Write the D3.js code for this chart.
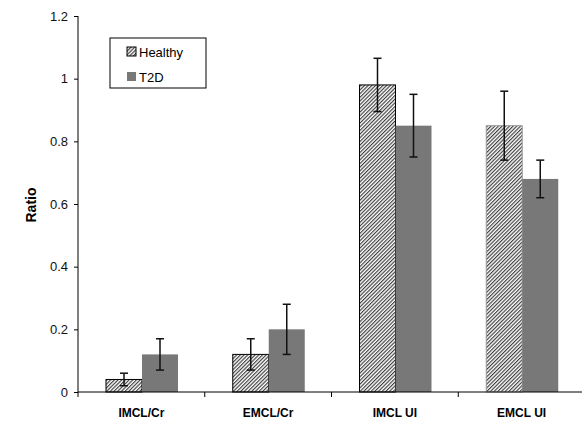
<!DOCTYPE html>
<html>
<head>
<meta charset="utf-8">
<script src="https://cdn.jsdelivr.net/npm/d3@7"></script>
<style>
  body { margin: 0; background: #fff; }
  svg text { font-family: "Liberation Sans", Arial, sans-serif; }
</style>
</head>
<body>
<svg id="chart" width="582" height="424"></svg>
<script>
var categories = ["IMCL/Cr", "EMCL/Cr", "IMCL UI", "EMCL UI"];
var groups = ["Healthy", "T2D"];
var healthy = [0.04, 0.12, 0.98, 0.85];
var healthyErr = [0.02, 0.05, 0.085, 0.11];
var t2d = [0.12, 0.20, 0.85, 0.68];
var t2dErr = [0.05, 0.08, 0.10, 0.06];
var yTicks = [0, 0.2, 0.4, 0.6, 0.8, 1, 1.2];

var svg = d3.select("#chart");
// note: "top" is a reserved window prop, so plot edges get a prefix
var plotL = 78, plotT = 16, plotB = 392, plotR = 585;

var x = d3.scaleBand().domain(categories).range([plotL, plotR]);
var xs = d3.scaleBand().domain(groups).range([28, 100]);
var y = d3.scaleLinear().domain([0, 1.2]).range([plotB, plotT]);

// hatch for healthy bars
var defs = svg.append("defs");
defs.append("pattern")
    .attr("id", "hatch")
    .attr("patternUnits", "userSpaceOnUse")
    .attr("width", 2.6)
    .attr("height", 4)
    .attr("patternTransform", "rotate(45)")
    .call(p => {
        p.append("rect").attr("width", 2.6).attr("height", 4).attr("fill", "#fff");
        p.append("line").attr("x1", 0.6).attr("y1", 0).attr("x2", 0.6).attr("y2", 4)
            .attr("stroke", "#333").attr("stroke-width", 1.1);
    });

var rows = categories.map((c, i) => ({
    cat: c,
    bars: [
        { g: "Healthy", v: healthy[i], e: healthyErr[i] },
        { g: "T2D", v: t2d[i], e: t2dErr[i] },
    ],
}));

var grp = svg.selectAll(".grp").data(rows).join("g")
    .attr("class", "grp")
    .attr("transform", d => "translate(" + x(d.cat) + ",0)");

grp.selectAll("rect").data(d => d.bars.map(b => Object.assign({ cat: d.cat }, b))).join("rect")
    .attr("x", d => xs(d.g))
    .attr("y", d => y(d.v))
    .attr("width", xs.bandwidth())
    .attr("height", d => y(0) - y(d.v))
    .attr("fill", d => d.g === "Healthy" ? "url(#hatch)" : "#787878")
    .attr("stroke", d => d.g === "Healthy" ? (d.cat === "EMCL UI" ? "#999" : "#000") : "none")
    .attr("stroke-width", 1);

// error bars
var eb = grp.selectAll(".err").data(d => d.bars).join("g").attr("class", "err")
    .attr("stroke", "#111").attr("stroke-width", 1.5);
eb.append("line")
    .attr("x1", d => xs(d.g) + xs.bandwidth() / 2)
    .attr("x2", d => xs(d.g) + xs.bandwidth() / 2)
    .attr("y1", d => y(d.v - d.e))
    .attr("y2", d => y(d.v + d.e));
eb.selectAll(".cap").data(d => [d.v - d.e, d.v + d.e].map(v => ({ g: d.g, v: v }))).join("line")
    .attr("class", "cap")
    .attr("x1", d => xs(d.g) + xs.bandwidth() / 2 - 4)
    .attr("x2", d => xs(d.g) + xs.bandwidth() / 2 + 4)
    .attr("y1", d => y(d.v))
    .attr("y2", d => y(d.v));

// y axis
var yAxis = svg.append("g")
    .attr("transform", "translate(" + plotL + ",0)")
    .call(d3.axisLeft(y).tickValues(yTicks).tickSize(4).tickPadding(6).tickFormat(d3.format("")));
yAxis.select(".domain").attr("stroke", "#000").attr("d", "M0," + plotT + "V" + plotB);
yAxis.selectAll("text").attr("font-size", 13).attr("fill", "#111");

// x axis
var xAxis = svg.append("g").attr("transform", "translate(0," + plotB + ")");
xAxis.append("line").attr("x1", plotL).attr("x2", plotR).attr("stroke", "#000");
xAxis.selectAll(".tk").data(categories).join("line")
    .attr("class", "tk")
    .attr("x1", d => x(d)).attr("x2", d => x(d))
    .attr("y1", 0).attr("y2", 5).attr("stroke", "#000");
xAxis.selectAll(".lbl").data(categories).join("text")
    .attr("class", "lbl")
    .attr("x", d => x(d) + x.bandwidth() / 2)
    .attr("y", 25)
    .attr("text-anchor", "middle")
    .attr("font-size", 12)
    .attr("font-weight", "bold")
    .text(d => d);

svg.append("text")
    .attr("transform", "translate(36,205) rotate(-90)")
    .attr("text-anchor", "middle")
    .attr("font-size", 14)
    .attr("font-weight", "bold")
    .text("Ratio");

// legend
var lg = svg.append("g").attr("transform", "translate(110,38)");
lg.append("rect").attr("width", 96).attr("height", 50)
    .attr("fill", "#fff").attr("stroke", "#000").attr("stroke-width", 1);
groups.forEach((g, i) => {
    lg.append("rect")
        .attr("x", 17).attr("y", 9 + i * 25)
        .attr("width", 9).attr("height", 9)
        .attr("fill", g === "Healthy" ? "url(#hatch)" : "#787878")
        .attr("stroke", g === "Healthy" ? "#000" : "none");
    lg.append("text")
        .attr("x", 29).attr("y", 18.5 + i * 25)
        .attr("font-size", 13)
        .text(g);
});
</script>
</body>
</html>
